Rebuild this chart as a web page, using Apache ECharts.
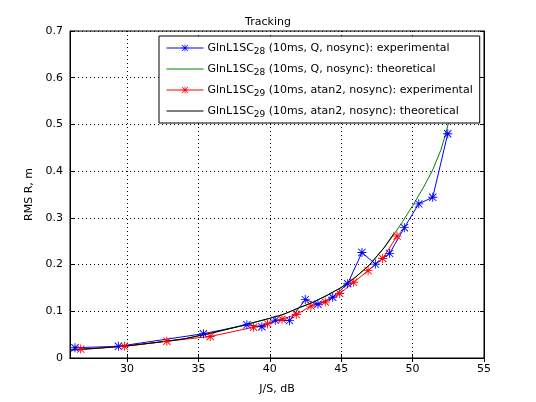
<!DOCTYPE html>
<html style="height: 100%">
<head>
<meta charset="utf-8">
<script src="https://cdn.jsdelivr.net/npm/echarts@6/dist/echarts.min.js"></script>
</head>
<body style="height: 100%; margin: 0; background: #fff">
<div id="main" style="width: 536px; height: 402px"></div>
<script type="text/javascript">
// series names
var names = [
    'GlnL1SC28 (10ms, Q, nosync): experimental',
    'GlnL1SC28 (10ms, Q, nosync): theoretical',
    'GlnL1SC29 (10ms, atan2, nosync): experimental',
    'GlnL1SC29 (10ms, atan2, nosync): theoretical'
];

// GlnL1SC28 experimental
var exp28X = [26.35, 29.39, 35.35, 38.39, 39.44, 40.38, 41.38, 42.48, 43.37, 44.4, 45.45, 46.45, 47.39, 48.39, 49.42, 50.43, 51.41, 52.46];
var exp28Y = [0.022, 0.025, 0.052, 0.071, 0.067, 0.081, 0.080, 0.125, 0.115, 0.130, 0.159, 0.226, 0.201, 0.224, 0.279, 0.330, 0.344, 0.480];

// GlnL1SC28 theoretical
var theo28X = [26, 28, 30, 32, 34, 36, 38, 40, 41, 42, 43, 44, 45, 46, 47, 48, 48.7, 49.3, 50.0, 50.7, 51.4, 52.0, 52.4, 53.0];
var theo28Y = [0.017, 0.021, 0.026, 0.033, 0.041, 0.054, 0.069, 0.085, 0.094, 0.107, 0.119, 0.134, 0.151, 0.173, 0.200, 0.236, 0.265, 0.292, 0.326, 0.362, 0.402, 0.447, 0.490, 0.560];

// GlnL1SC29 experimental
var exp29X = [26.75, 29.81, 32.78, 35.82, 38.86, 39.84, 40.85, 41.85, 42.88, 43.88, 44.89, 45.87, 46.88, 47.9, 48.91];
var exp29Y = [0.019, 0.025, 0.036, 0.046, 0.066, 0.073, 0.083, 0.093, 0.111, 0.120, 0.138, 0.162, 0.187, 0.213, 0.261];

// GlnL1SC29 theoretical
var theo29X = [26, 28, 30, 32, 34, 36, 38, 40, 41, 42, 43, 44, 45, 46, 47, 48, 48.7];
var theo29Y = [0.017, 0.021, 0.026, 0.033, 0.041, 0.054, 0.069, 0.085, 0.094, 0.107, 0.119, 0.134, 0.151, 0.173, 0.200, 0.236, 0.267];

var xTicks = [30, 35, 40, 45, 50, 55];

function pairs(xs, ys) {
    var out = [];
    for (var i = 0; i < xs.length; i++) out.push([xs[i], ys[i]]);
    return out;
}

// asterisk marker like matlab '*'
var star = 'path://M9 0L11 0L11 20L9 20ZM0 9L20 9L20 11L0 11ZM2.6 1.2L18.8 17.4L17.4 18.8L1.2 2.6ZM17.4 1.2L18.8 2.6L2.6 18.8L1.2 17.4Z';

var font = 'DejaVu Sans';
var fs = 11;
var myChart = echarts.init(document.getElementById('main'));
myChart.setOption({
    backgroundColor: '#fff',
    animation: false,
    textStyle: { fontFamily: font },
    title: {
        text: 'Tracking',
        left: 'center',
        top: 12,
        padding: [5, 0, 5, 16],
        textStyle: { fontSize: fs, fontWeight: 'normal', color: '#000', fontFamily: font }
    },
    legend: {
        orient: 'vertical',
        left: 159,
        top: 36,
        padding: [4, 7, 4, 7],
        itemWidth: 37,
        itemHeight: 9,
        itemGap: 5,
        backgroundColor: '#fff',
        borderColor: '#000',
        borderWidth: 1,
        borderRadius: 0,
        lineStyle: { width: 1 },
        data: [
            { name: names[0] },
            { name: names[1], itemStyle: { opacity: 0 } },
            { name: names[2] },
            { name: names[3], itemStyle: { opacity: 0 } }
        ],
        formatter: function (name) {
            return name.replace(/SC(\d\d)/, 'SC{sub|$1}');
        },
        textStyle: {
            fontSize: fs,
            color: '#000',
            fontFamily: font,
            lineHeight: 16,
            padding: [0, 0, 0, -1],
            rich: {
                sub: { fontSize: 9, lineHeight: 10, verticalAlign: 'bottom', color: '#000', fontFamily: font }
            }
        }
    },
    grid: {
        left: 70,
        right: 52,
        top: 31,
        bottom: 44,
        show: true,
        borderColor: '#000',
        borderWidth: 1
    },
    xAxis: [{
        type: 'value',
        min: 26,
        max: 55,
        name: 'J/S, dB',
        nameLocation: 'middle',
        nameGap: 26,
        nameTextStyle: { fontSize: fs, color: '#000', fontFamily: font },
        axisLine: { lineStyle: { color: '#000', width: 1 } },
        axisTick: { inside: true, length: 4, customValues: xTicks, lineStyle: { color: '#000' } },
        axisLabel: { customValues: xTicks, fontSize: fs, color: '#000', margin: 6, fontFamily: font },
        splitLine: { show: true, lineStyle: { color: '#000', type: [1, 3], width: 1 } }
    }, {
        type: 'value',
        min: 26,
        max: 55,
        position: 'top',
        axisLine: { lineStyle: { color: '#000', width: 1 } },
        axisTick: { inside: true, length: 4, customValues: xTicks, lineStyle: { color: '#000' } },
        axisLabel: { show: false },
        splitLine: { show: false }
    }],
    yAxis: [{
        type: 'value',
        min: 0,
        max: 0.7,
        interval: 0.1,
        name: 'RMS R, m',
        nameLocation: 'middle',
        nameGap: 30,
        nameTextStyle: { fontSize: fs, color: '#000', fontFamily: font },
        axisLine: { show: true, lineStyle: { color: '#000', width: 1 } },
        axisTick: { show: true, inside: true, length: 4, lineStyle: { color: '#000' } },
        axisLabel: { fontSize: fs, color: '#000', margin: 7, fontFamily: font },
        splitLine: { show: true, lineStyle: { color: '#000', type: [1, 3], width: 1 } }
    }, {
        type: 'value',
        min: 0,
        max: 0.7,
        interval: 0.1,
        position: 'right',
        axisLine: { show: true, lineStyle: { color: '#000', width: 1 } },
        axisTick: { show: true, inside: true, length: 4, lineStyle: { color: '#000' } },
        axisLabel: { show: false },
        splitLine: { show: false }
    }],
    series: [{
        name: names[0],
        type: 'line',
        data: pairs(exp28X, exp28Y),
        symbol: star,
        symbolSize: 9,
        showAllSymbol: true,
        color: '#0000ff',
        lineStyle: { width: 1, color: '#0000ff' },
        itemStyle: { color: '#0000ff' }
    }, {
        name: names[1],
        type: 'line',
        data: pairs(theo28X, theo28Y),
        symbol: 'none',
        color: '#008000',
        lineStyle: { width: 1, color: '#008000' }
    }, {
        name: names[2],
        type: 'line',
        data: pairs(exp29X, exp29Y),
        symbol: star,
        symbolSize: 9,
        showAllSymbol: true,
        color: '#ff0000',
        lineStyle: { width: 1, color: '#ff0000' },
        itemStyle: { color: '#ff0000' }
    }, {
        name: names[3],
        type: 'line',
        data: pairs(theo29X, theo29Y),
        symbol: 'none',
        color: '#000',
        lineStyle: { width: 1, color: '#000' }
    }]
});
</script>
</body>
</html>
